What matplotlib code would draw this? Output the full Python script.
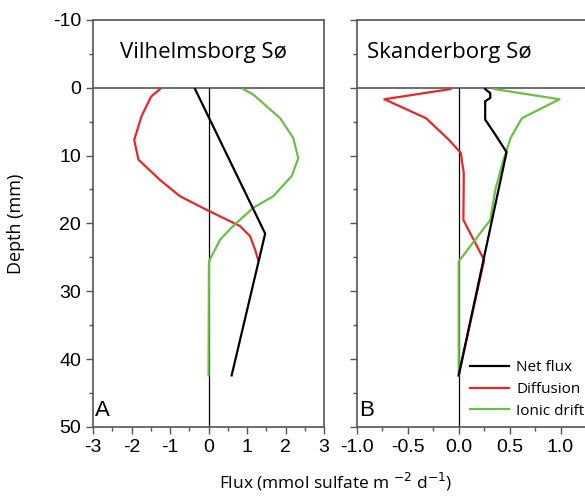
import matplotlib
matplotlib.use('Agg')
import matplotlib.pyplot as plt
from matplotlib.ticker import MultipleLocator

# Vilhelmsborg Sø (panel A)
a_net_x = [-0.35, 1.47, 0.60]
a_net_d = [0.2, 21.5, 42.4]
a_dif_x = [-1.26, -1.49, -1.74, -1.93, -1.82, -1.26, -0.74, -0.05, 0.82, 1.08, 1.21, 1.29]
a_dif_d = [0.2, 1.3, 4.2, 7.7, 10.6, 13.6, 16.0, 18.0, 20.4, 21.9, 23.9, 25.4]
a_ion_x = [0.90, 1.16, 1.86, 2.20, 2.33, 2.16, 1.68, 1.16, 0.60, 0.30, 0.01, 0.0]
a_ion_d = [0.2, 1.0, 4.5, 7.4, 10.4, 13.0, 16.0, 17.7, 20.6, 22.4, 25.6, 42.4]

# Skanderborg Sø (panel B)
b_net_x = [0.26, 0.31, 0.31, 0.26, 0.26, 0.35, 0.47, 0.0]
b_net_d = [0.2, 0.8, 1.5, 2.0, 4.7, 6.7, 9.5, 42.4]
b_dif_x = [-0.08, -0.73, -0.32, -0.095, 0.02, 0.05, 0.046, 0.25, 0.0]
b_dif_d = [0.2, 1.7, 4.5, 7.7, 9.6, 12.6, 19.5, 25.4, 42.4]
b_ion_x = [0.35, 0.99, 0.62, 0.51, 0.43, 0.36, 0.31, 0.0, 0.0]
b_ion_d = [0.2, 1.7, 4.5, 7.4, 11.1, 15.0, 19.5, 25.6, 42.4]

RED = '#e8262a'
GREEN = '#6dbe45'
SPINE = '#555555'
lab_font = 'Open Sans'
tick_font = 'Liberation Sans'

fig = plt.figure(figsize=(5.85, 4.97), dpi=100)
axA = fig.add_axes([0.159, 0.141, 0.395, 0.819])
axB = fig.add_axes([0.610, 0.141, 0.390, 0.819])


def style(ax, xlim, major, minor):
    ax.set_ylim(50, -10)
    ax.set_xlim(*xlim)
    ax.xaxis.set_major_locator(MultipleLocator(major))
    ax.xaxis.set_minor_locator(MultipleLocator(minor))
    ax.yaxis.set_major_locator(MultipleLocator(10))
    ax.yaxis.set_minor_locator(MultipleLocator(5))
    ax.tick_params(direction='out', color=SPINE, labelsize=14, length=5, width=1)
    ax.tick_params(which='minor', direction='out', color=SPINE, length=3, width=1)
    for s in ax.spines.values():
        s.set_color(SPINE)
        s.set_linewidth(1.2)
    ax.axhline(0, color=SPINE, lw=1.2, zorder=1)
    ax.plot([0, 0], [0, 50], color='black', lw=0.9, zorder=1)


style(axA, (-3, 3), 1, 0.5)
axA.set_xticks([-3, -2, -1, 0, 1, 2, 3])
axA.set_xticklabels(['-3', '-2', '-1', '0', '1', '2', '3'], fontfamily=tick_font)
axA.set_yticks([-10, 0, 10, 20, 30, 40, 50])
axA.set_yticklabels(['-10', '0', '10', '20', '30', '40', '50'], fontfamily=tick_font)
axA.plot(a_dif_x, a_dif_d, color=RED, lw=1.6, zorder=3)
axA.plot(a_ion_x, a_ion_d, color=GREEN, lw=1.6, zorder=3)
axA.plot(a_net_x, a_net_d, color='black', lw=1.6, zorder=4)
axA.text(-2.3, -5.2, 'Vilhelmsborg Sø', fontsize=16, fontfamily=lab_font, va='center')
axA.text(-2.95, 49.2, 'A', fontsize=16, fontfamily=tick_font, va='bottom')
axA.set_ylabel('Depth (mm)', fontsize=13, fontfamily=lab_font, labelpad=20)

style(axB, (-1.0, 1.24), 0.5, 0.25)
axB.set_xticks([-1.0, -0.5, 0.0, 0.5, 1.0])
axB.set_xticklabels(['-1.0', '-0.5', '0.0', '0.5', '1.0'], fontfamily=tick_font)
axB.tick_params(axis='y', labelleft=False)
axB.spines['right'].set_visible(False)
axB.plot(b_dif_x, b_dif_d, color=RED, lw=1.6, zorder=3, label='Diffusion')
axB.plot(b_ion_x, b_ion_d, color=GREEN, lw=1.6, zorder=3, label='Ionic drift')
axB.plot(b_net_x, b_net_d, color='black', lw=1.6, zorder=4, label='Net flux')
axB.text(-0.9, -5.2, 'Skanderborg Sø', fontsize=16, fontfamily=lab_font, va='center')
axB.text(-0.98, 49.2, 'B', fontsize=16, fontfamily=tick_font, va='bottom')
h, l = axB.get_legend_handles_labels()
axB.legend([h[2], h[0], h[1]], [l[2], l[0], l[1]], loc='lower right',
           bbox_to_anchor=(1.025, 0.005), frameon=False,
           prop={'family': lab_font, 'size': 11}, handlelength=2.6,
           handletextpad=0.45, labelspacing=0.45, borderaxespad=0)

fig.text(0.573, 0.018, r'Flux (mmol sulfate m $^{-2}$ d$^{-1}$)', ha='center',
         fontsize=12.5, fontfamily=lab_font)

fig.savefig('out.png', dpi=100)
